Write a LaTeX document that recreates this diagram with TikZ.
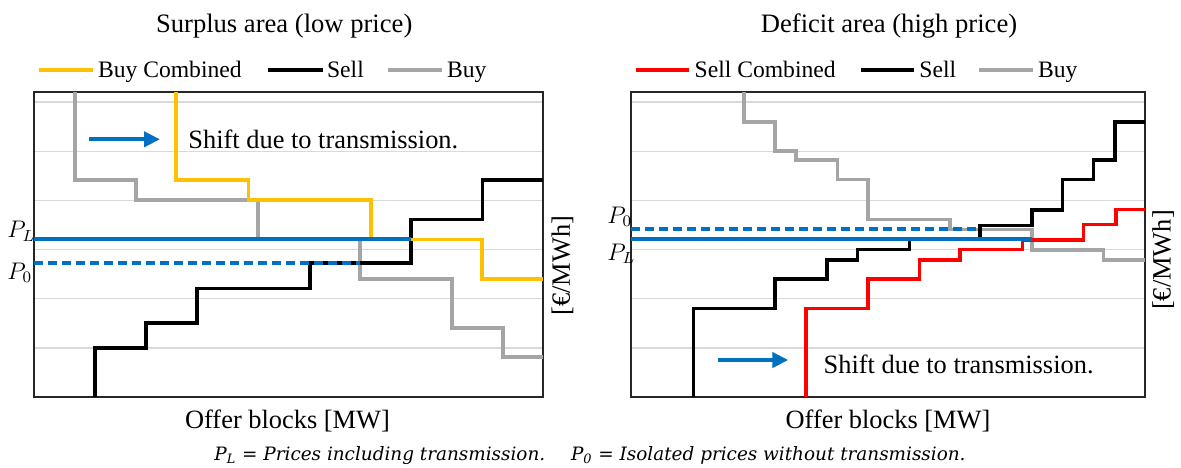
\documentclass[tikz,border=0pt]{standalone}
\usepackage{fontspec}
\setmainfont{Liberation Serif}
\newfontfamily\notefont{DejaVu Serif}
\usetikzlibrary{arrows.meta}
\definecolor{buycomb}{HTML}{FFC000}
\definecolor{buygray}{HTML}{A5A5A5}
\definecolor{priceblue}{HTML}{0070C0}
\definecolor{sellcomb}{HTML}{FF0000}
\definecolor{gridgray}{HTML}{D9D9D9}
\definecolor{framegray}{HTML}{262626}

\begin{document}
\begin{tikzpicture}[x=0.5pt,y=-0.5pt,
  curve/.style={line width=1.8pt},
  legline/.style={line width=2pt},
  gridline/.style={draw=gridgray,line width=0.6pt},
  frame/.style={draw=framegray,line width=0.6pt},
  plline/.style={draw=priceblue,line width=2pt},
  pzline/.style={draw=priceblue,line width=2pt,dash pattern=on 4.5pt off 2.5pt},
  shiftarrow/.style={draw=priceblue,line width=2pt,-{Triangle[length=8pt,width=7.5pt]}},
  title/.style={font=\fontsize{13.3}{16}\selectfont,inner sep=0pt,anchor=base},
  leg/.style={font=\fontsize{11.8}{14}\selectfont,inner sep=0pt,anchor=base west},
  axlabel/.style={font=\fontsize{13.2}{16}\selectfont,inner sep=0pt},
  plab/.style={font=\fontsize{12}{14}\selectfont,inner sep=0pt,anchor=base west},
  note/.style={font=\notefont\itshape\fontsize{9.2}{11}\selectfont,inner sep=0pt,anchor=base},
]
\useasboundingbox (0,0) rectangle (1181,467);

% ---------- surplus area ----------
\node[title] (titleS) at (284.2,32.3) {Surplus area (low price)};
\coordinate (lgS1a) at (39.3,69.7);  \coordinate (lgS1b) at (93.3,69.7);
\coordinate (lgS2a) at (268.3,69.7); \coordinate (lgS2b) at (322.7,69.7);
\coordinate (lgS3a) at (388.3,69.7); \coordinate (lgS3b) at (441.7,69.7);
\draw[legline,buycomb] (lgS1a) -- (lgS1b);
\draw[legline,black] (lgS2a) -- (lgS2b);
\draw[legline,buygray] (lgS3a) -- (lgS3b);
\node[leg] (legS1) at (97.7,77.7) {Buy Combined};
\node[leg] (legS2) at (326.7,77.7) {Sell};
\node[leg] (legS3) at (446.7,77.7) {Buy};

\foreach \g in {102,151.2,200.4,249.6,298.8,348}
  \draw[gridline] (34,\g) -- (543,\g);
\draw[frame] (34,92) rectangle (543,397);

\draw[curve,buygray] (75,92) -- (75,180) -- (136,180) -- (136,200) -- (258,200)
  -- (258,239.3) -- (360,239.3) -- (360,279) -- (452,279) -- (452,328)
  -- (503,328) -- (503,357) -- (543,357);
\draw[curve,black] (95,397) -- (95,347.7) -- (145.7,347.7) -- (145.7,322.7)
  -- (196.7,322.7) -- (196.7,288.3) -- (310,288.3) -- (310,262.7) -- (410.7,262.7)
  -- (410.7,219.3) -- (482.3,219.3) -- (482.3,180) -- (543,180);
\draw[curve,buycomb] (175.7,92) -- (175.7,180) -- (248.3,180) -- (248.3,200)
  -- (370.7,200) -- (370.7,239.3) -- (481.7,239.3) -- (481.7,279) -- (543,279);
\draw[plline] (34,239.3) -- (410.7,239.3);
\draw[pzline] (34,262.7) -- (360,262.7);

\node[plab] (plS) at (7,237.5) {$P_L$};
\node[plab] (p0S) at (7,279) {$P_0$};

\coordinate (arS1) at (89,139.3); \coordinate (arS2) at (160,139.3);
\draw[shiftarrow] (arS1) -- (arS2);
\node[axlabel,anchor=base west] (shiftS) at (188,148.3) {Shift due to transmission.};
\node[axlabel,anchor=base] (xlabS) at (287.5,428.3) {Offer blocks [MW]};
\node[axlabel,rotate=90] (ylabS) at (562.5,265.8) {[€/MWh]};

% ---------- deficit area ----------
\node[title] (titleD) at (889,32.3) {Deficit area (high price)};
\coordinate (lgD1a) at (635.7,69.7); \coordinate (lgD1b) at (689,69.7);
\coordinate (lgD2a) at (860.7,69.7); \coordinate (lgD2b) at (914,69.7);
\coordinate (lgD3a) at (979.3,69.7); \coordinate (lgD3b) at (1033.3,69.7);
\draw[legline,sellcomb] (lgD1a) -- (lgD1b);
\draw[legline,black] (lgD2a) -- (lgD2b);
\draw[legline,buygray] (lgD3a) -- (lgD3b);
\node[leg] (legD1) at (694.3,77.7) {Sell Combined};
\node[leg] (legD2) at (919,77.7) {Sell};
\node[leg] (legD3) at (1037.7,77.7) {Buy};

\foreach \g in {102,151.2,200.4,249.6,298.8,348}
  \draw[gridline] (631,\g) -- (1145,\g);
\draw[frame] (631,92) rectangle (1145,397);

\draw[curve,buygray] (744,92) -- (744,121.7) -- (775,121.7) -- (775,150.7)
  -- (795.7,150.7) -- (795.7,160) -- (837.3,160) -- (837.3,179.3) -- (867.7,179.3)
  -- (867.7,219.3) -- (950,219.3) -- (950,229.3) -- (1031.7,229.3) -- (1031.7,250)
  -- (1103.3,250) -- (1103.3,260) -- (1145,260);
\draw[curve,black] (693.3,397) -- (693.3,308.3) -- (775,308.3) -- (775,279)
  -- (826.7,279) -- (826.7,260) -- (857.3,260) -- (857.3,249.3) -- (909.3,249.3)
  -- (909.3,239.3) -- (980,239.3) -- (980,225.3) -- (1031.7,225.3) -- (1031.7,210)
  -- (1062.3,210) -- (1062.3,179.3) -- (1093.3,179.3) -- (1093.3,160) -- (1115,160)
  -- (1115,121.7) -- (1145,121.7);
\draw[curve,sellcomb] (805.7,397) -- (805.7,308.3) -- (867.7,308.3) -- (867.7,279)
  -- (919.3,279) -- (919.3,260) -- (960,260) -- (960,249.3) -- (1022.3,249.3)
  -- (1022.3,240) -- (1083.3,240) -- (1083.3,224.3) -- (1116,224.3) -- (1116,209.3)
  -- (1145,209.3);
\draw[plline] (631,239.3) -- (1031.7,239.3);
\draw[pzline] (631,229) -- (980,229);

\node[plab] (p0D) at (607,223) {$P_0$};
\node[plab] (plD) at (607,260) {$P_L$};

\coordinate (arD1) at (717.7,360); \coordinate (arD2) at (788.3,360);
\draw[shiftarrow] (arD1) -- (arD2);
\node[axlabel,anchor=base west] (shiftD) at (823.3,373.3) {Shift due to transmission.};
\node[axlabel,anchor=base] (xlabD) at (888,428.3) {Offer blocks [MW]};
\node[axlabel,rotate=90] (ylabD) at (1163.3,260) {[€/MWh]};

% ---------- note ----------
\node[note] (legendnote) at (590,460) {P\textsubscript{L} = Prices including transmission.\hspace{1.4em}P\textsubscript{0} = Isolated prices without transmission.};
\end{tikzpicture}
\end{document}
